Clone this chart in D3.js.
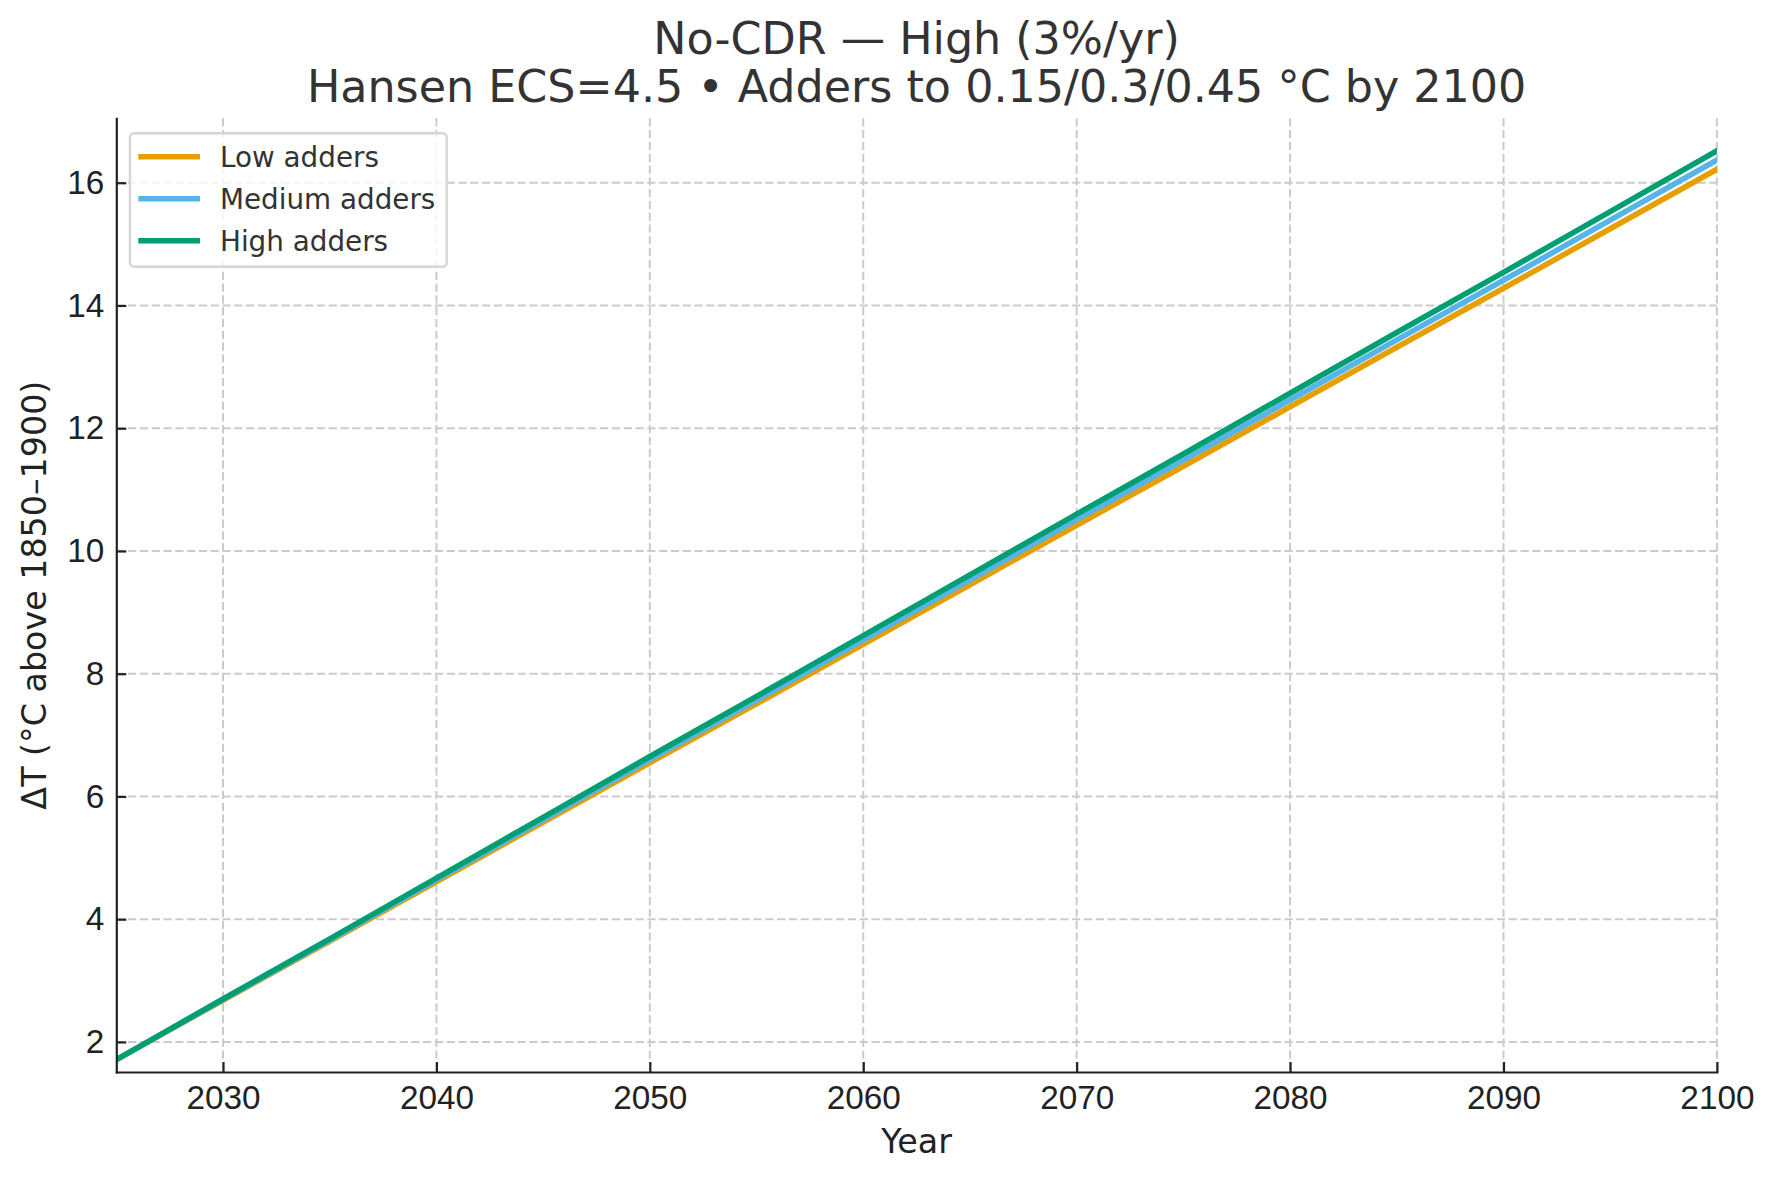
<!DOCTYPE html>
<html>
<head>
<meta charset="utf-8">
<script src="https://cdn.jsdelivr.net/npm/d3@7"></script>
<style>
  body { margin: 0; background: #fff; }
  svg { display: block; font-family: "DejaVu Sans", sans-serif; }
  .grid line { stroke: #cbcbcb; stroke-width: 2; stroke-dasharray: 8.2,3.6; }
  .axis path, .axis line { stroke: #222; stroke-width: 2.2; }
  .axis text { fill: #222; font-size: 33.3px; }
</style>
</head>
<body>
<svg id="chart"></svg>
<script>
/* DATA */
var years = [2025, 2030, 2035, 2040, 2045, 2050, 2055, 2060, 2065, 2070, 2075, 2080, 2085, 2090, 2095, 2100];
var lowAdders    = [1.71, 2.68, 3.64, 4.61, 5.58, 6.55, 7.51, 8.48, 9.45, 10.42, 11.38, 12.35, 13.32, 14.28, 15.25, 16.22];
var mediumAdders = [1.71, 2.69, 3.66, 4.64, 5.62, 6.60, 7.57, 8.55, 9.53, 10.51, 11.48, 12.46, 13.44, 14.41, 15.39, 16.37];
var highAdders   = [1.71, 2.70, 3.68, 4.67, 5.66, 6.65, 7.63, 8.62, 9.61, 10.60, 11.58, 12.57, 13.56, 14.54, 15.53, 16.52];
var seriesNames = ["Low adders", "Medium adders", "High adders"];
var xTicks = [2030, 2040, 2050, 2060, 2070, 2080, 2090, 2100];
var yTicks = [2, 4, 6, 8, 10, 12, 14, 16];

/* SETUP */
var width = 1780;
var height = 1179;
var margin = {top: 118.3, right: 63.1, bottom: 107, left: 116.3};
var colors = ["#E69F00", "#56B4E9", "#009E73"];

var svg = d3.select("#chart")
    .attr("width", width)
    .attr("height", height);

var x = d3.scaleLinear()
    .domain([2025, 2100])
    .range([margin.left, width - margin.right]);

var y = d3.scaleLinear()
    .domain([1.51, 17.05])
    .range([height - margin.bottom, margin.top]);

/* GRID */
var grid = svg.append("g").attr("class", "grid");
grid.selectAll("line.v")
  .data(xTicks)
  .enter()
  .append("line")
    .attr("x1", d => x(d)).attr("x2", d => x(d))
    .attr("y1", y.range()[1]).attr("y2", y.range()[0]);
grid.selectAll("line.h")
  .data(yTicks)
  .enter()
  .append("line")
    .attr("x1", x.range()[0]).attr("x2", x.range()[1])
    .attr("y1", d => y(d)).attr("y2", d => y(d));

/* LINES */
svg.append("defs").append("clipPath")
    .attr("id", "plot-clip")
  .append("rect")
    .attr("x", x.range()[0])
    .attr("y", y.range()[1])
    .attr("width", x.range()[1] - x.range()[0])
    .attr("height", y.range()[0] - y.range()[1]);

var series = [lowAdders, mediumAdders, highAdders].map(function(vals, i) {
  return {name: seriesNames[i], color: colors[i], points: years.map((yr, j) => [yr, vals[j]])};
});

var line = d3.line()
    .x(d => x(d[0]))
    .y(d => y(d[1]));

svg.append("g")
    .attr("clip-path", "url(#plot-clip)")
  .selectAll("path")
  .data(series)
  .enter()
  .append("path")
    .attr("d", d => line(d.points))
    .attr("fill", "none")
    .attr("stroke", d => d.color)
    .attr("stroke-width", 5.6)
    .attr("stroke-linecap", "square");

/* AXES */
svg.append("g")
    .attr("class", "axis")
    .attr("transform", translate(0, y.range()[0]))
    .call(d3.axisBottom(x).tickValues(xTicks).tickFormat(d3.format("d"))
      .tickSizeInner(-10).tickSizeOuter(0).tickPadding(13));

svg.append("g")
    .attr("class", "axis")
    .attr("transform", translate(x.range()[0], 0))
    .call(d3.axisLeft(y).tickValues(yTicks)
      .tickSizeInner(-10).tickSizeOuter(0).tickPadding(12));

svg.selectAll(".axis .domain").attr("stroke-linecap", "square");

/* LABELS */
svg.append("text")
    .attr("x", (x.range()[0] + x.range()[1]) / 2)
    .attr("y", 1153.3)
    .attr("text-anchor", "middle")
    .attr("fill", "#222")
    .style("font-size", "33.3px")
    .text("Year");

svg.append("text")
    .attr("transform", translate(46, (y.range()[0] + y.range()[1]) / 2) + " rotate(-90)")
    .attr("text-anchor", "middle")
    .attr("fill", "#222")
    .style("font-size", "33.3px")
    .text("ΔT (°C above 1850–1900)");

var title = svg.append("text")
    .attr("text-anchor", "middle")
    .attr("fill", "#333")
    .style("font-size", "44.4px");
title.append("tspan")
    .attr("x", (x.range()[0] + x.range()[1]) / 2)
    .attr("y", 54)
    .text("No-CDR — High (3%/yr)");
title.append("tspan")
    .attr("x", (x.range()[0] + x.range()[1]) / 2)
    .attr("y", 101.7)
    .text("Hansen ECS=4.5 • Adders to 0.15/0.3/0.45 °C by 2100");

/* LEGEND */
var legend = svg.append("g").attr("transform", translate(130, 133.3));
legend.append("rect")
    .attr("width", 316.7)
    .attr("height", 133.4)
    .attr("rx", 4)
    .attr("fill", "#fff")
    .attr("fill-opacity", 0.8)
    .attr("stroke", "#d6d6d6")
    .attr("stroke-width", 2.4);

var items = legend.selectAll("g.item")
  .data(series)
  .enter()
  .append("g")
    .attr("transform", (d, i) => translate(0, 23.4 + i * 42));
items.append("line")
    .attr("x1", 8.3).attr("x2", 70)
    .attr("stroke", d => d.color)
    .attr("stroke-width", 5.6);
items.append("text")
    .attr("x", 90)
    .attr("y", 10)
    .attr("fill", "#333")
    .style("font-size", "27.8px")
    .text(d => d.name);

/* HELPER FUNCTION */
function translate(x, y) {
  return 'translate(' + String(x) + ',' + String(y) + ')';
}
</script>
</body>
</html>
